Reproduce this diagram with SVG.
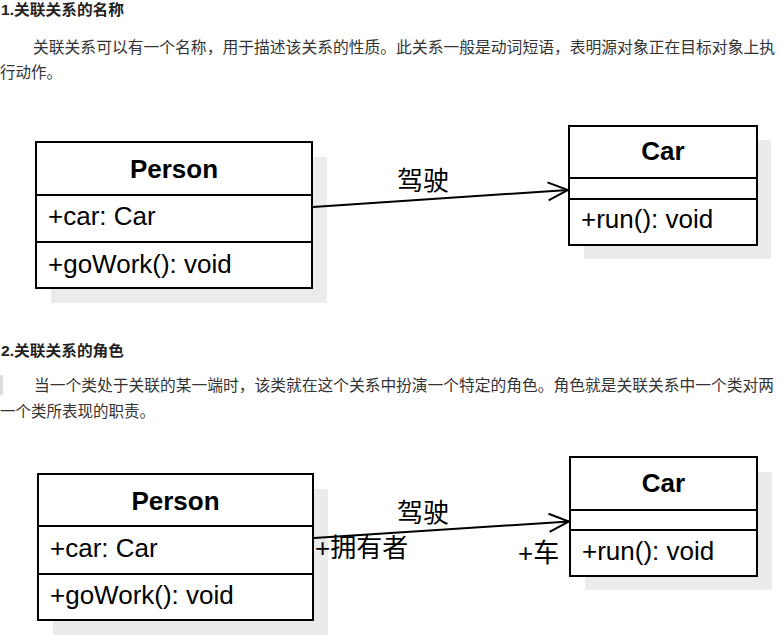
<svg xmlns="http://www.w3.org/2000/svg" width="781" height="635" viewBox="0 0 781 635">
<style>
.h{font-family:"Liberation Sans","Noto Sans CJK SC",sans-serif;font-weight:bold;font-size:15px;fill:#222}
.p{font-family:"Noto Sans CJK SC",sans-serif;font-size:15.5px;fill:#333}
.box{fill:#fff;stroke:#000;stroke-width:2}
.sh{fill:#ebebeb}
.div{stroke:#000;stroke-width:2}
.t{font-family:"Liberation Sans","Noto Sans CJK SC",sans-serif;font-size:26px;fill:#000}
.tb{font-family:"Liberation Sans",sans-serif;font-size:26px;font-weight:bold;fill:#000;text-anchor:middle}
.c{font-family:"Liberation Sans","Noto Sans CJK SC",sans-serif;font-size:26px;fill:#000}
.edge{stroke:#000;stroke-width:2;fill:none}
</style>
<defs>
<marker id="open" viewBox="0 0 22 20" refX="21" refY="10" markerWidth="22" markerHeight="20" markerUnits="userSpaceOnUse" orient="auto">
<path d="M1,1 L21,10 L1,19" fill="none" stroke="#000" stroke-width="2"/>
</marker>
</defs>
<rect width="781" height="635" fill="#fff"/>

<g id="text1">
<text class="h" x="1" y="15" textLength="123" lengthAdjust="spacingAndGlyphs">1.关联关系的名称</text>
<text class="p" x="33" y="53" textLength="742" lengthAdjust="spacingAndGlyphs">关联关系可以有一个名称，用于描述该关系的性质。此关系一般是动词短语，表明源对象正在目标对象上执</text>
<text class="p" x="0" y="78" textLength="62" lengthAdjust="spacingAndGlyphs">行动作。</text>
</g>

<g id="text2">
<text class="h" x="1" y="356" textLength="123" lengthAdjust="spacingAndGlyphs">2.关联关系的角色</text>
<rect x="0" y="375" width="3" height="20" fill="#ddd"/>
<text class="p" x="34" y="391" textLength="740" lengthAdjust="spacingAndGlyphs">当一个类处于关联的某一端时，该类就在这个关系中扮演一个特定的角色。角色就是关联关系中一个类对两</text>
<text class="p" x="0" y="417" textLength="155" lengthAdjust="spacingAndGlyphs">一个类所表现的职责。</text>
</g>

<g id="person1">
<rect class="sh" x="51" y="157" width="276" height="146"/>
<rect class="box" x="36" y="142" width="276" height="146"/>
<line class="div" x1="36" y1="195" x2="312" y2="195"/>
<line class="div" x1="36" y1="242" x2="312" y2="242"/>
<text class="tb" x="174" y="178">Person</text>
<text class="t" x="48" y="225">+car: Car</text>
<text class="t" x="48" y="273">+goWork(): void</text>
</g>

<g id="car1">
<rect class="sh" x="584" y="140" width="187" height="119"/>
<rect class="box" x="569" y="126" width="188" height="119"/>
<line class="div" x1="569" y1="178" x2="757" y2="178"/>
<line class="div" x1="569" y1="199" x2="757" y2="199"/>
<text class="tb" x="663" y="160">Car</text>
<text class="t" x="581" y="228">+run(): void</text>
</g>

<g id="person2">
<rect class="sh" x="53" y="489" width="275" height="146"/>
<rect class="box" x="38" y="474" width="275" height="146"/>
<line class="div" x1="38" y1="526" x2="313" y2="526"/>
<line class="div" x1="38" y1="574" x2="313" y2="574"/>
<text class="tb" x="175.5" y="510">Person</text>
<text class="t" x="50" y="557">+car: Car</text>
<text class="t" x="50" y="604">+goWork(): void</text>
</g>

<g id="car2">
<rect class="sh" x="585" y="472" width="187" height="118"/>
<rect class="box" x="570" y="457" width="187" height="119"/>
<line class="div" x1="570" y1="510" x2="757" y2="510"/>
<line class="div" x1="570" y1="530" x2="757" y2="530"/>
<text class="tb" x="663.5" y="492">Car</text>
<text class="t" x="582" y="560">+run(): void</text>
</g>

<g id="connectors">
<line class="edge" x1="313" y1="207" x2="568" y2="190" marker-end="url(#open)"/>
<text class="c" x="397" y="190">驾驶</text>
<line class="edge" x1="314" y1="538" x2="569" y2="521.5" marker-end="url(#open)"/>
<text class="c" x="397" y="522">驾驶</text>
<text class="c" x="315" y="557">+拥有者</text>
<text class="c" x="518" y="562">+车</text>
</g>
</svg>
